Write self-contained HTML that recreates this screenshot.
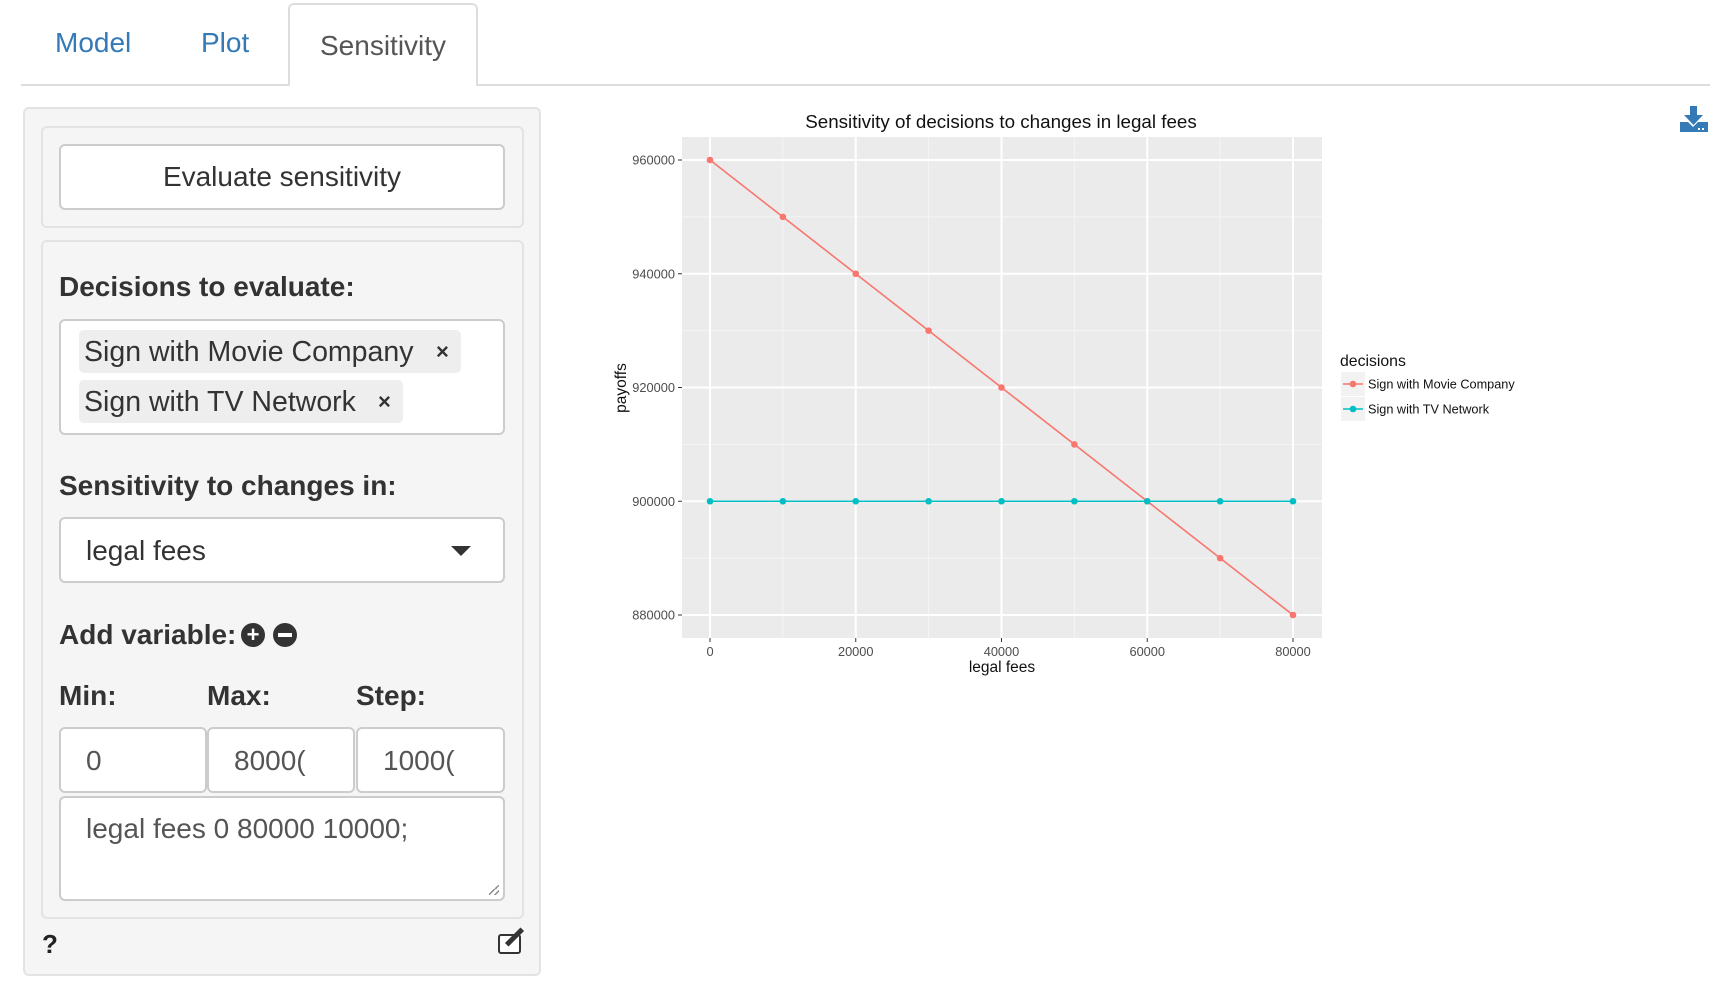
<!DOCTYPE html>
<html><head><meta charset="utf-8"><style>
body{margin:0;width:1710px;height:984px;background:#fff;font-family:"Liberation Sans",sans-serif;position:relative;overflow:hidden;color:#333}
.a{position:absolute;box-sizing:border-box}
.lbl{font-weight:bold;font-size:28px;color:#333}
.inp{background:#fff;border:2px solid #ccc;border-radius:6px}
</style></head><body>
<div class="a" style="left:21px;top:84px;width:1689px;height:2px;background:#ddd"></div>
<div class="a" style="left:55px;top:27px;font-size:28px;color:#337ab7">Model</div>
<div class="a" style="left:201px;top:27px;font-size:28px;color:#337ab7">Plot</div>
<div class="a" style="left:288px;top:3px;width:190px;height:83px;background:#fff;border:2px solid #ddd;border-bottom:none;border-radius:6px 6px 0 0;font-size:28px;color:#555;padding:25px 0 0 30px">Sensitivity</div>

<div class="a" style="left:23px;top:107px;width:518px;height:869px;background:#f5f5f5;border:2px solid #e3e3e3;border-radius:6px"></div>
<div class="a" style="left:41px;top:126px;width:483px;height:102px;border:2px solid #e3e3e3;border-radius:6px"></div>
<div class="a inp" style="left:59px;top:144px;width:446px;height:66px;font-size:28px;text-align:center;line-height:62px">Evaluate sensitivity</div>
<div class="a" style="left:41px;top:240px;width:483px;height:679px;border:2px solid #e3e3e3;border-radius:6px"></div>
<div class="a lbl" style="left:59px;top:271px">Decisions to evaluate:</div>
<div class="a inp" style="left:59px;top:319px;width:446px;height:116px"></div>
<div class="a" style="left:79px;top:330px;width:382px;height:43px;background:#eee;border-radius:5px;font-size:28.5px;padding:6px 0 0 5px">Sign with Movie Company<span style="position:absolute;left:357px;top:9px;font-size:22px;font-weight:bold">×</span></div>
<div class="a" style="left:79px;top:380px;width:324px;height:43px;background:#eee;border-radius:5px;font-size:28.5px;padding:6px 0 0 5px">Sign with TV Network<span style="position:absolute;left:299px;top:9px;font-size:22px;font-weight:bold">×</span></div>
<div class="a lbl" style="left:59px;top:470px">Sensitivity to changes in:</div>
<div class="a inp" style="left:59px;top:517px;width:446px;height:66px;font-size:28px;padding:16px 0 0 25px">legal fees<div class="a" style="left:390px;top:27px;width:0;height:0;border-left:10px solid transparent;border-right:10px solid transparent;border-top:10px solid #333"></div></div>
<div class="a lbl" style="left:59px;top:619px">Add variable:</div>
<div class="a" style="left:241px;top:623px;width:24px;height:24px;border-radius:50%;background:#333;color:#fff;font-weight:bold;font-size:22px;line-height:24px;text-align:center">+</div>
<div class="a" style="left:273px;top:623px;width:24px;height:24px;border-radius:50%;background:#333"><div class="a" style="left:5px;top:10px;width:14px;height:4px;background:#fff"></div></div>
<div class="a lbl" style="left:59px;top:680px">Min:</div>
<div class="a lbl" style="left:207px;top:680px">Max:</div>
<div class="a lbl" style="left:356px;top:680px">Step:</div>
<div class="a inp" style="left:59px;top:727px;width:148px;height:66px;font-size:28px;padding:16px 0 0 25px;color:#555">0</div>
<div class="a inp" style="left:207px;top:727px;width:148px;height:66px;font-size:28px;padding:16px 0 0 25px;color:#555">8000(</div>
<div class="a inp" style="left:356px;top:727px;width:149px;height:66px;font-size:28px;padding:16px 0 0 25px;color:#555">1000(</div>
<div class="a inp" style="left:59px;top:796px;width:446px;height:105px;font-size:28px;padding:15px 0 0 25px;color:#555">legal fees 0 80000 10000;<div class="a" style="right:4px;bottom:4px;width:10px;height:10px;background:linear-gradient(135deg,transparent 45%,#888 45%,#888 55%,transparent 55%,transparent 75%,#888 75%,#888 85%,transparent 85%)"></div></div>
<div class="a" style="left:42px;top:929px;font-size:26px;font-weight:bold;color:#222">?</div>
<div class="a" style="left:498px;top:934px;width:23px;height:20px;border:2.5px solid #333;border-radius:3px;background:#fff"></div>
<div class="a" style="left:512px;top:926px;width:5px;height:22px;background:#333;transform:rotate(45deg)"></div>

<svg class="a" style="left:1680px;top:106px" width="28" height="26" viewBox="0 0 28 26"><rect x="10" y="0" width="7" height="10" fill="#337ab7"/><polygon points="4,9 23,9 13.5,19" fill="#337ab7"/><path d="M0 16h8l5 5 5-5h10v10H0z" fill="#337ab7"/><rect x="18" y="22" width="2" height="2" fill="#fff"/><rect x="22" y="22" width="2" height="2" fill="#fff"/></svg>

<svg class="a" style="left:0;top:0" width="1710" height="984" id="chart"></svg>
<script>
const xValues=[0,10000,20000,30000,40000,50000,60000,70000,80000];
const movieCompany=[960000,950000,940000,930000,920000,910000,900000,890000,880000];
const tvNetwork=[900000,900000,900000,900000,900000,900000,900000,900000,900000];
const xTicks=[0,20000,40000,60000,80000];
const yTicks=[880000,900000,920000,940000,960000];
const NS="http://www.w3.org/2000/svg";
const svg=document.getElementById('chart');
const P={l:682,r:1322,t:137,b:638};
const xs=v=>710+(v-0)/80000*(1293-710);
const ys=v=>615-(v-880000)/80000*(615-160);
function mk(t,a,txt){const e=document.createElementNS(NS,t);for(const k in a)e.setAttribute(k,a[k]);if(txt!=null)e.textContent=txt;svg.appendChild(e);return e;}
let e=mk('rect',{x:P.l,y:P.t,width:P.r-P.l,height:P.b-P.t,fill:'#ebebeb'});


for(let i=0;i<xTicks.length-1;i++){const v=(xTicks[i]+xTicks[i+1])/2;mk('line',{x1:xs(v),x2:xs(v),y1:P.t,y2:P.b,stroke:'#f5f5f5','stroke-width':1});}
for(let i=0;i<yTicks.length-1;i++){const v=(yTicks[i]+yTicks[i+1])/2;mk('line',{y1:ys(v),y2:ys(v),x1:P.l,x2:P.r,stroke:'#f5f5f5','stroke-width':1});}
xTicks.forEach(v=>{mk('line',{x1:xs(v),x2:xs(v),y1:P.t,y2:P.b,stroke:'#fff','stroke-width':2});mk('line',{x1:xs(v),x2:xs(v),y1:P.b,y2:P.b+4,stroke:'#333'});
e=mk('text',{x:xs(v),y:P.b+18,'text-anchor':'middle','font-size':12.8,fill:'#4d4d4d'},v);

});
yTicks.forEach(v=>{mk('line',{y1:ys(v),y2:ys(v),x1:P.l,x2:P.r,stroke:'#fff','stroke-width':2});mk('line',{y1:ys(v),y2:ys(v),x1:P.l-4,x2:P.l,stroke:'#333'});
e=mk('text',{x:P.l-7,y:ys(v)+4.5,'text-anchor':'end','font-size':12.8,fill:'#4d4d4d'},v);

});
function series(vals,col,name){const pts=xValues.map((x,i)=>xs(x)+','+ys(vals[i])).join(' ');
e=mk('polyline',{points:pts,fill:'none',stroke:col,'stroke-width':1.6});


xValues.forEach((x,i)=>{e=mk('circle',{cx:xs(x),cy:ys(vals[i]),r:3.3,fill:col});

});}
series(movieCompany,'#f8766d','movie-company');
series(tvNetwork,'#00bfc4','tv-network');
e=mk('text',{x:1001,y:128,'text-anchor':'middle','font-size':18.8,fill:'#111'},'Sensitivity of decisions to changes in legal fees');


e=mk('text',{x:(P.l+P.r)/2,y:672,'text-anchor':'middle','font-size':15.5,fill:'#111'},'legal fees');


e=mk('text',{x:0,y:0,'text-anchor':'middle','font-size':15.5,fill:'#111',transform:'translate(626,388) rotate(-90)'},'payoffs');


e=mk('text',{x:1340,y:366,'font-size':15.8,fill:'#111'},'decisions');


[['Sign with Movie Company','#f8766d',372],['Sign with TV Network','#00bfc4',397]].forEach(([t,c,y])=>{
mk('rect',{x:1341,y:y,width:24,height:24,fill:'#f2f2f2'});
mk('line',{x1:1343,x2:1363,y1:y+12,y2:y+12,stroke:c,'stroke-width':1.6});
mk('circle',{cx:1353,cy:y+12,r:3.3,fill:c});
e=mk('text',{x:1368,y:y+16.5,'font-size':12.7,fill:'#111'},t);

});
</script>
</body></html>
